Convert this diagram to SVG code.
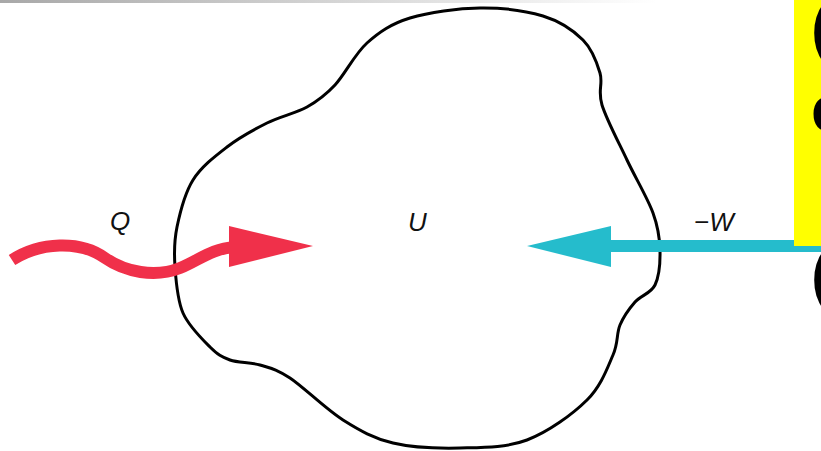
<svg xmlns="http://www.w3.org/2000/svg" width="821" height="451" viewBox="0 0 821 451">
<style>
.lbl{font-family:"Liberation Sans",Arial,sans-serif;font-style:italic;font-size:26px;fill:#111}
.big{font-family:"Liberation Sans",Arial,sans-serif;font-weight:bold;font-size:64px;fill:#000}
</style>
<defs>
<linearGradient id="topbar" x1="0" y1="0" x2="1" y2="0">
<stop offset="0" stop-color="#a8a8a8"/>
<stop offset="0.4" stop-color="#d4d4d4"/>
<stop offset="0.8" stop-color="#ffffff"/>
</linearGradient>
</defs>
<rect x="0" y="0" width="821" height="451" fill="#fff"/>
<rect x="0" y="0" width="821" height="3" fill="url(#topbar)"/>
<g id="system">
<path fill="none" stroke="#000" stroke-width="3" d="M480,8 C502.2,7.7 525.8,10.7 543,16 C560.2,21.3 573.5,30.5 583,40 C592.5,49.5 596.8,62.2 600,73 C603.2,83.8 597.5,90.5 602,105 C606.5,119.5 618.5,142 627,160 C635.5,178 647.5,198 653,213 C658.5,228 659.7,238 660,250 C660.3,262 659.2,276.3 655,285 C650.8,293.7 640.8,295.3 635,302 C629.2,308.7 623.7,316.2 620,325 C616.3,333.8 618.5,342.5 613,355 C607.5,367.5 601.3,385.8 587,400 C572.7,414.2 548.2,432 527,440 C505.8,448 482.3,447.5 460,448 C437.7,448.5 412.5,447.7 393,443 C373.5,438.3 360.2,430.8 343,420 C325.8,409.2 303.8,387.2 290,378 C276.2,368.8 270,368 260,365 C250,362 238.3,363 230,360 C221.7,357 217.8,354.8 210,347 C202.2,339.2 188.8,326.3 183,313 C177.2,299.7 176,281.3 175,267 C174,252.7 174,241.5 177,227 C180,212.5 184.7,193.3 193,180 C201.3,166.7 214.7,156.5 227,147 C239.3,137.5 253.7,129.7 267,123 C280.3,116.3 295.7,113.3 307,107 C318.3,100.7 325,95.7 335,85 C345,74.3 354.5,54.2 367,43 C379.5,31.8 391.2,23.8 410,18 C428.8,12.2 457.8,8.3 480,8 Z"/>
<text class="lbl" x="408" y="231">U</text>
</g>
<g id="connectors">
<g id="heat">
<path fill="none" stroke="#f0304a" stroke-width="12" d="M12,260 C40,242 80,240 105,258 C125,272 155,278 180,268 C200,260 210,249 235,247"/>
<polygon fill="#f0304a" points="229,226 313,246 229,267"/>
</g>
<g id="work">
<rect x="608" y="240" width="213" height="12" fill="#25bccc"/>
<polygon fill="#25bccc" points="611,226 527,246 611,267"/>
</g>
</g>
<g id="labels">
<text class="lbl" x="110" y="230">Q</text>
<text class="lbl" x="694" y="231">−W</text>
</g>
<g id="note">
<rect x="794" y="0" width="27" height="246" fill="#ffff00"/>
<text class="big" x="811" y="50">(</text>
<text class="big" x="811" y="131">e</text>
<text class="big" x="811" y="297">(</text>
</g>
</svg>
